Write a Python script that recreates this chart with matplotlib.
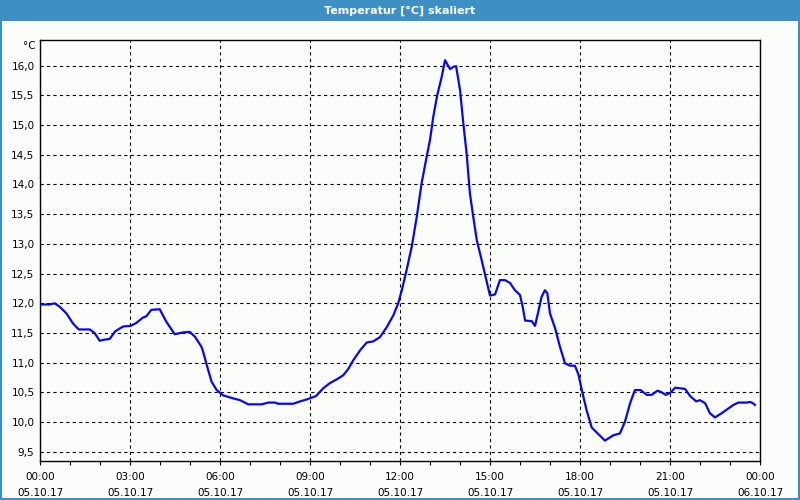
import matplotlib
matplotlib.use("Agg")
import matplotlib.pyplot as plt
from matplotlib.patches import Rectangle
from matplotlib.ticker import FuncFormatter, MultipleLocator

# hours since 05.10.17 00:00 and temperature in degC
hours = [0.0, 0.32, 0.49, 0.66, 0.88, 1.1, 1.29, 1.66, 1.82, 1.99, 2.16, 2.32,
         2.51, 2.77, 3.02, 3.21, 3.43, 3.54, 3.71, 3.99, 4.21, 4.49, 4.77, 4.99,
         5.16, 5.38, 5.44, 5.61, 5.72, 5.89, 6.11, 6.44, 6.67, 6.94, 7.39, 7.61,
         7.83, 7.94, 8.44, 8.67, 8.94, 9.2, 9.44, 9.67, 9.89, 10.11, 10.28, 10.44,
         10.67, 10.89, 11.11, 11.33, 11.56, 11.78, 11.94, 12.06, 12.22, 12.39,
         12.56, 12.72, 12.89, 13.0, 13.11, 13.24, 13.39, 13.5, 13.67, 13.78, 13.87,
         14.0, 14.11, 14.22, 14.33, 14.44, 14.56, 14.72, 14.85, 15.0, 15.17, 15.33,
         15.5, 15.67, 15.83, 16.0, 16.09, 16.17, 16.39, 16.5, 16.61, 16.72, 16.83,
         16.91, 17.0, 17.17, 17.33, 17.5, 17.67, 17.83, 17.95, 18.06, 18.22, 18.39,
         18.61, 18.83, 19.11, 19.33, 19.5, 19.67, 19.83, 20.02, 20.22, 20.39, 20.58,
         20.69, 20.86, 21.0, 21.17, 21.5, 21.67, 21.87, 22.0, 22.17, 22.33, 22.5,
         22.72, 22.94, 23.11, 23.28, 23.56, 23.67, 23.76, 23.83]
temps = [11.98, 11.98, 12.0, 11.94, 11.83, 11.66, 11.56, 11.56, 11.50, 11.37, 11.39, 11.40,
         11.53, 11.61, 11.62, 11.67, 11.76, 11.78, 11.89, 11.90, 11.69, 11.48, 11.51, 11.52,
         11.44, 11.27, 11.18, 10.87, 10.68, 10.54, 10.45, 10.40, 10.37, 10.30, 10.30, 10.33,
         10.33, 10.31, 10.31, 10.35, 10.39, 10.44, 10.57, 10.66, 10.72, 10.79, 10.90, 11.04,
         11.21, 11.34, 11.36, 11.43, 11.60, 11.80, 12.0, 12.22, 12.56, 12.95,
         13.46, 14.02, 14.47, 14.75, 15.14, 15.50, 15.81, 16.09, 15.94, 15.98, 15.99,
         15.59, 15.03, 14.52, 13.85, 13.46, 13.06, 12.73, 12.45, 12.13, 12.15, 12.39,
         12.39, 12.34, 12.22, 12.14, 11.94, 11.71, 11.70, 11.62, 11.86, 12.11, 12.22,
         12.17, 11.83, 11.58, 11.27, 10.99, 10.95, 10.95, 10.80, 10.54, 10.20, 9.91,
         9.80, 9.69, 9.78, 9.81, 10.01, 10.32, 10.54, 10.54, 10.46, 10.46, 10.53,
         10.51, 10.46, 10.49, 10.58, 10.56, 10.44, 10.35, 10.37, 10.32, 10.15, 10.08,
         10.15, 10.23, 10.29, 10.33, 10.33, 10.34, 10.32, 10.29]

tick_hours = [0, 3, 6, 9, 12, 15, 18, 21, 24]
tick_labels = ["00:00\n05.10.17", "03:00\n05.10.17", "06:00\n05.10.17",
               "09:00\n05.10.17", "12:00\n05.10.17", "15:00\n05.10.17",
               "18:00\n05.10.17", "21:00\n05.10.17", "00:00\n06.10.17"]

title = "Temperatur [°C] skaliert"
unit = "°C"

bar_col = "#3d8fc4"
bg_col = "#fbfdfb"

fig = plt.figure(figsize=(8, 5), dpi=100, facecolor=bg_col)

# title bar and window border
fig.patches.append(Rectangle((0, 1 - 21 / 500), 1, 21 / 500, transform=fig.transFigure,
                             facecolor=bar_col, edgecolor="none", zorder=0))
fig.patches.append(Rectangle((1 / 800, 1 / 500), 798 / 800, 1 - 2 / 500, transform=fig.transFigure,
                             facecolor="none", edgecolor=bar_col, linewidth=1.5, zorder=1))
fig.text(0.5, 1 - 10.5 / 500, title, color="white", fontsize=8, fontweight="bold",
         ha="center", va="center")

ax = fig.add_axes([40 / 800, 1 - 461 / 500, 720 / 800, 421 / 500])
ax.set_facecolor(bg_col)
ax.plot(hours, temps, color="#0808ee", linewidth=1.6, zorder=3)

ax.set_xlim(0, 24)
ax.set_ylim(9.347, 16.43)

ax.set_xticks(tick_hours)
ax.set_xticklabels(tick_labels, fontsize=7.5, linespacing=1.75)
ax.xaxis.set_minor_locator(MultipleLocator(1))
ax.yaxis.set_major_locator(MultipleLocator(0.5))
ax.yaxis.set_major_formatter(FuncFormatter(lambda v, p: f"{v:.1f}".replace(".", ",")))

ax.tick_params(axis="x", which="both", direction="out", length=3, width=0.8, pad=5, colors="black")
ax.tick_params(axis="y", length=0, pad=4, labelsize=7.5)

ax.grid(True, which="major", color="black", linestyle=(0, (2.9, 2.9)), linewidth=0.8)
for s in ax.spines.values():
    s.set_color("black")
    s.set_linewidth(1)

fig.text(36 / 800, 1 - 46 / 500, unit, fontsize=7.5, ha="right", va="center")

fig.savefig("out.png", dpi=100, facecolor=bg_col)
